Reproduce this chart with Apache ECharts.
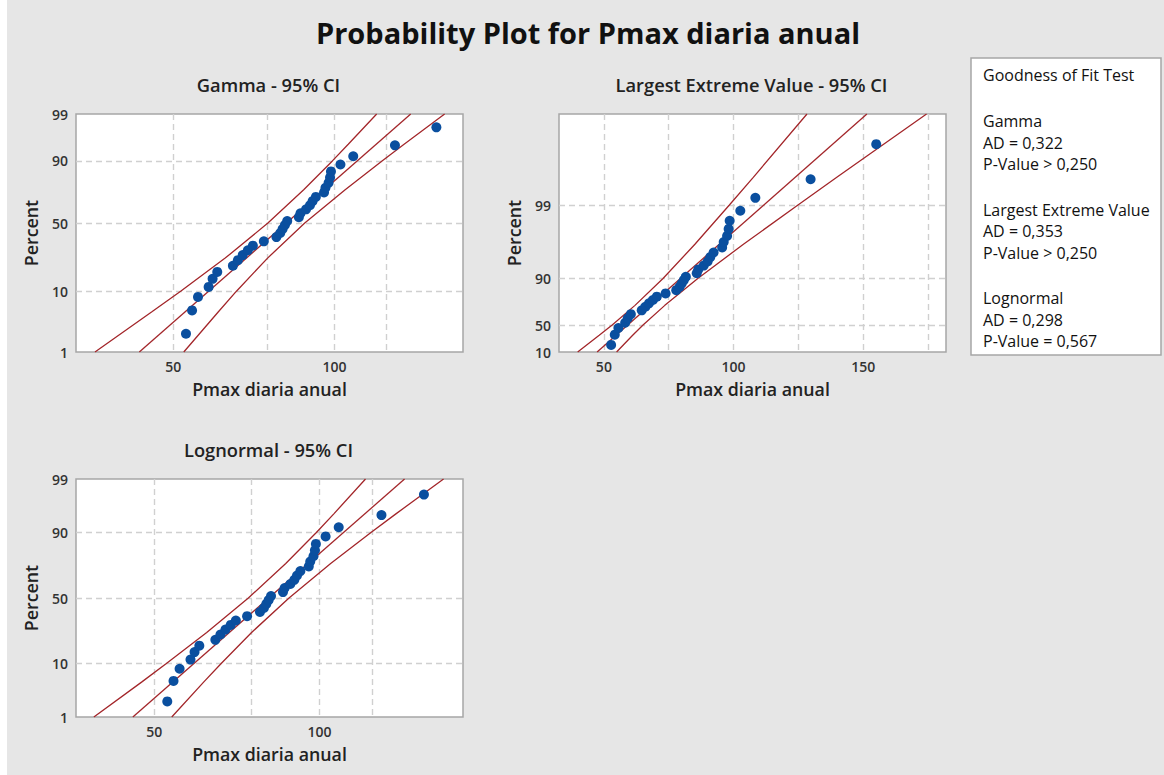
<!DOCTYPE html>
<html>
<head>
<meta charset="utf-8">
<script src="https://cdn.jsdelivr.net/npm/echarts@6/dist/echarts.min.js"></script>
<style>
  html, body { margin: 0; padding: 0; background: #ffffff; }
  #chart { width: 1164px; height: 775px; }
</style>
</head>
<body>
<div id="chart"></div>
<script>
// ---- Data -------------------------------------------------------------
// Annual maximum daily precipitation, ranked ascending (n = 32)
const pmax = [52.8, 54.2, 55.6, 58.2, 59.2, 60.4, 64.6, 66.0, 67.4, 68.9, 70.4, 73.8,
              77.9, 79.2, 80.0, 80.8, 81.6, 85.8, 86.4, 88.5, 90.0, 91.0, 92.3, 95.6,
              96.2, 97.5, 98.1, 98.5, 102.6, 108.4, 129.7, 155.0];
// Plotting position (percent) of each ranked value
const percent = [2.16, 5.25, 8.33, 11.42, 14.51, 17.59, 20.68, 23.77, 26.85, 29.94, 33.02, 36.11,
                 39.20, 42.28, 45.37, 48.46, 51.54, 54.63, 57.72, 60.80, 63.89, 66.98, 70.06, 73.15,
                 76.23, 79.32, 82.41, 85.49, 88.58, 91.67, 94.75, 97.84];

// Percent levels at which the fitted lines / confidence bands are given
const fitPct  = [1, 99];
const bandPct = [1, 5, 10, 25, 50, 75, 90, 95, 99];

// Gamma fit and 95% CI (Pmax at each level)
const gammaFit    = [43.2, 138.8];
const gammaCiLow  = [35.7, 45.6, 51.6, 62.5, 75.1, 87.6, 99.1, 106.1, 119.9];
const gammaCiHigh = [52.3, 60.7, 65.6, 75.0, 88.0, 104.7, 122.7, 134.9, 160.6];

// Largest extreme value fit and 95% CI
const levFit    = [47.4, 151.4];
const levCiLow  = [39.9, 48.2, 53.2, 62.0, 72.8, 85.1, 98.3, 107.6, 128.3];
const levCiHigh = [54.9, 61.1, 65.1, 73.5, 86.2, 103.8, 124.7, 139.8, 174.4];

// Lognormal fit and 95% CI
const lognFit    = [45.7, 142.9];
const lognCiLow  = [38.8, 47.4, 52.6, 62.3, 74.2, 86.8, 98.7, 106.2, 121.3];
const lognCiHigh = [53.8, 61.5, 66.2, 75.2, 88.0, 104.8, 124.1, 137.8, 168.3];

// Axis ticks
const logXGrid   = [50, 75, 100, 125];
const logXLabels = [50, 100];
const levXGrid   = [50, 75, 100, 125, 150, 175];
const levXLabels = [50, 100, 150];
const pctGrid      = [10, 50, 90];
const pctLabelAt   = [1, 10, 50, 90, 99];
const pctLabelText = ['1', '10', '50', '90', '99'];
const levLabelAt   = [1, 10, 50, 90];
const levLabelText = ['10', '50', '90', '99'];

// Goodness of fit summary
const gofTitle = 'Goodness of Fit Test';
const gofRows = [
  ['Gamma', 'AD = 0,322', 'P-Value > 0,250'],
  ['Largest Extreme Value', 'AD = 0,353', 'P-Value > 0,250'],
  ['Lognormal', 'AD = 0,298', 'P-Value = 0,567']
];

// ---- Probability scales ------------------------------------------------
function normInv(p) {
  const a = [-3.969683028665376e+01, 2.209460984245205e+02, -2.759285104469687e+02,
             1.383577518672690e+02, -3.066479806614716e+01, 2.506628277459239e+00];
  const b = [-5.447609879822406e+01, 1.615858368580409e+02, -1.556989798598866e+02,
             6.680131188771972e+01, -1.328068155288572e+01];
  const c = [-7.784894002430293e-03, -3.223964580411365e-01, -2.400758277161838e+00,
             -2.549732539343734e+00, 4.374664141464968e+00, 2.938163982698783e+00];
  const d = [7.784695709041462e-03, 3.224671290700398e-01, 2.445134137142996e+00,
             3.754408661907416e+00];
  const pl = 0.02425, ph = 1 - pl;
  let q, r;
  if (p < pl) {
    q = Math.sqrt(-2 * Math.log(p));
    return (((((c[0]*q+c[1])*q+c[2])*q+c[3])*q+c[4])*q+c[5]) / ((((d[0]*q+d[1])*q+d[2])*q+d[3])*q+1);
  }
  if (p <= ph) {
    q = p - 0.5; r = q * q;
    return (((((a[0]*r+a[1])*r+a[2])*r+a[3])*r+a[4])*r+a[5])*q / (((((b[0]*r+b[1])*r+b[2])*r+b[3])*r+b[4])*r+1);
  }
  q = Math.sqrt(-2 * Math.log(1 - p));
  return -(((((c[0]*q+c[1])*q+c[2])*q+c[3])*q+c[4])*q+c[5]) / ((((d[0]*q+d[1])*q+d[2])*q+d[3])*q+1);
}
const GAMMA_SHAPE = 22;
// log of gamma quantile (Wilson-Hilferty)
function gammaScale(pct) {
  const k = GAMMA_SHAPE, z = normInv(pct / 100);
  return 3 * Math.log(1 - 1 / (9 * k) + z / (3 * Math.sqrt(k)));
}
function probitScale(pct) { return normInv(pct / 100); }
function gumbelScale(pct) { return -Math.log(-Math.log(pct / 100)); }

const identity = v => v;

// ---- Panels ------------------------------------------------------------
const FONT = '"Open Sans", "Noto Sans", "DejaVu Sans", sans-serif';
const panels = [
  { title: 'Gamma - 95% CI', box: { left: 76, top: 114, width: 387, height: 238 },
    yScale: gammaScale, xScale: Math.log, xInv: Math.exp, xRange: [32.9, 173.8],
    xGrid: logXGrid, xLabels: logXLabels, yLabelAt: pctLabelAt, yLabelText: pctLabelText,
    fit: gammaFit, lo: gammaCiLow, hi: gammaCiHigh },
  { title: 'Largest Extreme Value - 95% CI', box: { left: 559, top: 114, width: 387, height: 238 },
    yScale: gumbelScale, xScale: identity, xInv: identity, xRange: [32.7, 181.9],
    xGrid: levXGrid, xLabels: levXLabels, yLabelAt: levLabelAt, yLabelText: levLabelText,
    fit: levFit, lo: levCiLow, hi: levCiHigh },
  { title: 'Lognormal - 95% CI', box: { left: 76, top: 479, width: 387, height: 238 },
    yScale: probitScale, xScale: Math.log, xInv: Math.exp, xRange: [36.0, 182.6],
    xGrid: logXGrid, xLabels: logXLabels, yLabelAt: pctLabelAt, yLabelText: pctLabelText,
    fit: lognFit, lo: lognCiLow, hi: lognCiHigh }
];

const RED = '#a3262a';
const BLUE = '#0a4f9f';
const GRIDLINE = { show: true, lineStyle: { color: '#d0d0d0', width: 1.4, type: [6, 4] } };

const grids = [], xAxes = [], yAxes = [], series = [], titles = [];

titles.push({
  text: 'Probability Plot for Pmax diaria anual',
  left: 588, top: 18, textAlign: 'center', padding: 0,
  textStyle: { fontFamily: FONT, fontSize: 29, fontWeight: 'bold', color: '#111' }
});

panels.forEach((p, i) => {
  grids.push(Object.assign({ show: true, backgroundColor: '#ffffff', borderColor: '#a6a6a6', borderWidth: 1.5 }, p.box));
  titles.push({
    text: p.title, left: p.box.left + p.box.width / 2 - 1, top: p.box.top - 39,
    textAlign: 'center', padding: 0,
    textStyle: { fontFamily: FONT, fontSize: 18.3, fontWeight: 600, color: '#222' }
  });
  const yVals = p.yLabelAt.map(p.yScale);
  xAxes.push({
    type: 'value', gridIndex: i,
    min: p.xScale(p.xRange[0]), max: p.xScale(p.xRange[1]),
    name: 'Pmax diaria anual', nameLocation: 'middle', nameGap: 28,
    nameTextStyle: { fontFamily: FONT, fontSize: 17.8, fontWeight: 600, color: '#222' },
    axisLine: { show: false },
    axisTick: { show: false, customValues: p.xGrid.map(p.xScale) },
    axisLabel: {
      customValues: p.xLabels.map(p.xScale), margin: 7,
      fontFamily: FONT, fontSize: 14, fontWeight: 600, color: '#333',
      formatter: v => String(Math.round(p.xInv(v)))
    },
    splitLine: GRIDLINE
  });
  yAxes.push({
    type: 'value', gridIndex: i,
    min: p.yScale(1), max: p.yScale(99),
    name: 'Percent', nameLocation: 'middle', nameGap: 36,
    nameTextStyle: { fontFamily: FONT, fontSize: 17.8, fontWeight: 600, color: '#222' },
    axisLine: { show: false },
    axisTick: { show: false, customValues: pctGrid.map(p.yScale) },
    axisLabel: {
      customValues: yVals, margin: 8,
      fontFamily: FONT, fontSize: 14, fontWeight: 600, color: '#333',
      formatter: v => {
        let best = 0;
        yVals.forEach((y, j) => { if (Math.abs(y - v) < Math.abs(yVals[best] - v)) best = j; });
        return p.yLabelText[best];
      }
    },
    splitLine: GRIDLINE
  });
  const curve = (xs, pcts) => xs.map((x, j) => [p.xScale(x), p.yScale(pcts[j])]);
  const lineBase = {
    type: 'line', xAxisIndex: i, yAxisIndex: i, showSymbol: false, symbol: 'none',
    clip: true, silent: true, z: 3,
    lineStyle: { color: RED, width: 1.3 }
  };
  series.push(Object.assign({}, lineBase, { data: curve(p.fit, fitPct) }));
  series.push(Object.assign({}, lineBase, { data: curve(p.lo, bandPct) }));
  series.push(Object.assign({}, lineBase, { data: curve(p.hi, bandPct) }));
  series.push({
    type: 'scatter', xAxisIndex: i, yAxisIndex: i, z: 5,
    symbol: 'circle', symbolSize: 10,
    itemStyle: { color: BLUE, opacity: 1 },
    data: pmax.map((x, j) => [p.xScale(x), p.yScale(percent[j])])
  });
});

// Goodness-of-fit box
const gofFont = '16px ' + FONT;
const gofElems = [
  { type: 'rect', shape: { x: 971, y: 58, width: 190, height: 297 },
    style: { fill: '#ffffff', stroke: '#a6a6a6', lineWidth: 1.5 } },
  { type: 'text', x: 983, y: 75,
    style: { text: gofTitle, fill: '#111', font: gofFont, verticalAlign: 'middle', textVerticalAlign: 'middle' } }
];
gofRows.forEach((row, g) => {
  row.forEach((line, k) => {
    gofElems.push({
      type: 'text', x: 983, y: 121 + g * 88.5 + k * 21.7,
      style: { text: line, fill: '#111', font: gofFont, verticalAlign: 'middle', textVerticalAlign: 'middle' }
    });
  });
});

const chart = echarts.init(document.getElementById('chart'), null, { renderer: 'svg' });
chart.setOption({
  animation: false,
  backgroundColor: '#ffffff',
  title: titles,
  grid: grids,
  xAxis: xAxes,
  yAxis: yAxes,
  series: series,
  graphic: [
    { type: 'rect', z: -10, silent: true, shape: { x: 7, y: 0, width: 1157, height: 775 }, style: { fill: '#e6e6e6' } },
    { type: 'group', children: gofElems }
  ]
});
</script>
</body>
</html>
